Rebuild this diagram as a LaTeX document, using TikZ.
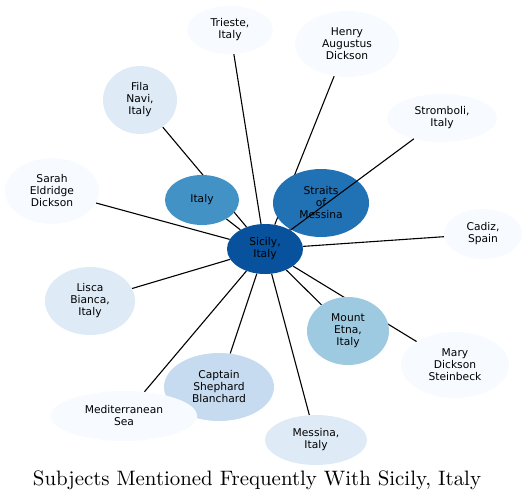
\documentclass[tikz,border=0pt]{standalone}
\usepackage{fontspec}
\newfontfamily\dejavu{DejaVu Sans}
\usetikzlibrary{shapes.geometric}
\definecolor{b0}{HTML}{F7FBFF}
\definecolor{b1}{HTML}{DEEBF7}
\definecolor{b2}{HTML}{C6DBEF}
\definecolor{b3}{HTML}{9ECAE1}
\definecolor{b5}{HTML}{4292C6}
\definecolor{b6}{HTML}{2171B5}
\definecolor{b7}{HTML}{08519C}
\pgfdeclarelayer{bg}
\pgfsetlayers{bg,main}
\begin{document}
\begin{tikzpicture}[x=1bp,y=-1bp,
  ent/.style={ellipse, inner sep=0pt, align=center, text=black,
    font={\dejavu\fontsize{10.7bp}{12bp}\selectfont}},
  link/.style={draw=black, line width=1.1bp}]
\useasboundingbox (0,0) rectangle (528,501);
\node[ent, fill=b0, minimum width=86bp, minimum height=48bp] (trieste) at (230,30) {Trieste,\\Italy};
\node[ent, fill=b0, minimum width=104bp, minimum height=66bp] (henry) at (347,44) {Henry\\Augustus\\Dickson};
\node[ent, fill=b1, minimum width=74bp, minimum height=68bp] (fila) at (140,100) {Fila\\Navi,\\Italy};
\node[ent, fill=b0, minimum width=110bp, minimum height=48bp] (stromboli) at (442,118) {Stromboli,\\Italy};
\node[ent, fill=b0, minimum width=94bp, minimum height=66bp] (sarah) at (52,191) {Sarah\\Eldridge\\Dickson};
\node[ent, fill=b5, minimum width=74bp, minimum height=50bp] (italy) at (202,200) {Italy};
\node[ent, fill=b6, minimum width=96bp, minimum height=68bp] (straits) at (321,203) {Straits\\of\\Messina};
\node[ent, fill=b7, minimum width=76bp, minimum height=50bp] (sicily) at (265,249) {Sicily,\\Italy};
\node[ent, fill=b0, minimum width=78bp, minimum height=50bp] (cadiz) at (483,234) {Cadiz,\\Spain};
\node[ent, fill=b1, minimum width=90bp, minimum height=68bp] (lisca) at (90,301) {Lisca\\Bianca,\\Italy};
\node[ent, fill=b3, minimum width=82bp, minimum height=68bp] (etna) at (348,331) {Mount\\Etna,\\Italy};
\node[ent, fill=b0, minimum width=108bp, minimum height=66bp] (mary) at (455,365) {Mary\\Dickson\\Steinbeck};
\node[ent, fill=b2, minimum width=110bp, minimum height=68bp] (captain) at (219,387) {Captain\\Shephard\\Blanchard};
\node[ent, fill=b0, minimum width=146bp, minimum height=50bp] (med) at (124,416) {Mediterranean\\Sea};
\node[ent, fill=b1, minimum width=102bp, minimum height=50bp] (messina) at (316,440) {Messina,\\Italy};
\begin{pgfonlayer}{bg}
\foreach \n in {trieste,henry,fila,sarah,italy,straits,cadiz,lisca,etna,mary,captain,med,messina}
  \draw[link] (sicily) -- (\n);
\end{pgfonlayer}
\draw[link] (sicily) -- (stromboli);
\node[anchor=base] (title) at (257,485) {\resizebox{448bp}{!}{Subjects Mentioned Frequently With Sicily, Italy}};
\end{tikzpicture}
\end{document}
